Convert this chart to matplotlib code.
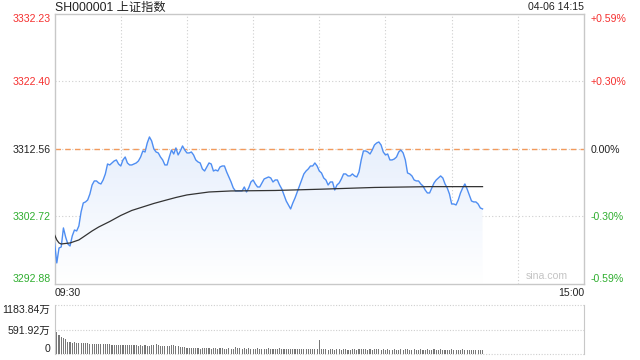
import numpy as np
import matplotlib
matplotlib.use('Agg')
import matplotlib.pyplot as plt
from matplotlib.patches import Polygon

plt.rcParams['font.family'] = ['Liberation Sans', 'Noto Sans CJK SC', 'DejaVu Sans']

title = 'SH000001 上证指数'
stamp = '04-06 14:15'
prev_close = 3312.56
price_ticks = [3292.88, 3302.72, 3312.56, 3322.40, 3332.23]
pct_labels = ['-0.59%', '-0.30%', '0.00%', '+0.30%', '+0.59%']
vol_ticks = [0, 591.92, 1183.84]
vol_labels = ['0', '591.92万', '1183.84万']
time_labels = ['09:30', '15:00']

# one value per minute from 09:30 (afternoon continues at minute 120)
price = [
    3298.82, 3295.95, 3298.13, 3298.28, 3301.05, 3299.73, 3298.71, 3298.42, 3299.88, 3300.75,
    3300.61, 3301.34, 3303.38, 3304.69, 3304.84, 3305.13, 3306.00, 3307.31, 3307.90, 3307.90,
    3307.60, 3307.46, 3308.04, 3308.92, 3310.37, 3310.23, 3310.52, 3310.81, 3310.96, 3310.37,
    3310.08, 3310.96, 3311.39, 3310.52, 3310.23, 3310.23, 3310.37, 3310.52, 3310.81, 3311.39,
    3312.27, 3312.12, 3313.43, 3314.31, 3313.73, 3312.56, 3312.12, 3311.98, 3311.39, 3310.96,
    3310.23, 3310.23, 3311.39, 3312.41, 3311.83, 3312.71, 3311.69, 3312.27, 3313.00, 3312.41,
    3311.98, 3311.98, 3312.12, 3311.69, 3310.96, 3310.67, 3310.52, 3309.65, 3309.35, 3309.94,
    3310.52, 3310.37, 3309.35, 3309.50, 3309.35, 3309.94, 3310.08, 3310.08, 3309.21, 3308.48,
    3307.75, 3306.88, 3306.44, 3306.44, 3306.44, 3306.44, 3307.02, 3306.29, 3306.88, 3307.75,
    3308.04, 3307.46, 3307.02, 3307.02, 3307.60, 3308.19, 3308.33, 3308.48, 3308.33, 3307.75,
    3308.04, 3308.04, 3307.31, 3306.73, 3305.86, 3304.98, 3304.40, 3303.82, 3304.69, 3305.42,
    3306.29, 3307.17, 3308.04, 3308.92, 3309.35, 3309.65, 3310.08, 3310.08, 3310.52, 3310.08,
    3309.35, 3309.06, 3308.33, 3308.04, 3307.31, 3307.75, 3307.75, 3306.58, 3307.31, 3307.60,
    3308.19, 3308.92, 3308.92, 3308.63, 3308.63, 3308.92, 3308.63, 3308.48, 3309.21, 3310.96,
    3312.27, 3312.27, 3312.12, 3311.83, 3312.41, 3313.14, 3313.43, 3313.58, 3313.14, 3312.12,
    3311.69, 3311.83, 3310.96, 3310.96, 3311.10, 3311.39, 3312.12, 3312.41, 3311.98, 3310.96,
    3309.06, 3308.92, 3308.63, 3308.04, 3307.90, 3307.90, 3307.46, 3307.17, 3306.58, 3306.15,
    3306.15, 3306.88, 3307.60, 3308.04, 3308.33, 3308.63, 3308.33, 3307.46, 3306.88, 3306.00,
    3304.54, 3304.54, 3304.40, 3305.13, 3306.15, 3306.88, 3307.46, 3306.73, 3305.86, 3304.98,
    3304.84, 3304.84, 3304.54, 3303.96, 3303.82,
]

avg_minutes = [0, 1, 2, 3, 5, 7, 9, 11, 13, 15, 17, 20, 25, 30, 35, 40, 45, 50, 55, 60,
               70, 80, 100, 120, 145, 170, 194]
avg_price = [3300.03, 3299.30, 3298.86, 3298.71, 3298.79, 3298.86, 3299.08, 3299.30, 3299.73,
             3300.17, 3300.61, 3301.19, 3301.99, 3302.87, 3303.60, 3304.11, 3304.62, 3305.06,
             3305.49, 3305.86, 3306.29, 3306.44, 3306.51, 3306.69, 3306.95, 3307.07, 3307.07]

# volume per minute, in 万
volume = [
    1183.84,
    540, 460, 405, 380, 352, 300, 296, 276, 278, 270,
    272, 266, 262, 258, 256, 250, 252, 246, 244, 240,
    244, 236, 232, 238, 230, 226, 228, 222, 218, 222,
    215, 218, 212, 226, 214, 208, 212, 205, 210, 200,
    206, 198, 203, 212, 224, 230, 218, 205, 200, 196,
    204, 198, 206, 215, 200, 182, 176, 168, 172, 150,
    152, 145, 140, 150, 138, 132, 142, 135, 148, 140,
    130, 138, 142, 128, 135, 140, 126, 132, 138, 130,
    128, 170, 150, 136, 128, 134, 130, 138, 126, 132,
    128, 136, 130, 124, 132, 128, 138, 126, 130, 122,
    128, 134, 120, 126, 132, 118, 124, 130, 126, 120,
    132, 124, 118, 128, 122, 126, 130, 116, 120, 340,
    120, 112, 118, 108, 114, 120, 104, 110, 116, 106,
    112, 118, 102, 108, 114, 110, 104, 116, 128, 122,
    114, 108, 118, 104, 112, 126, 110, 104, 116, 108,
    112, 100, 106, 114, 102, 108, 118, 104, 110, 120,
    108, 102, 112, 106, 98, 110, 104, 108, 114, 100,
    106, 112, 98, 104, 110, 102, 108, 96, 104, 112,
    100, 106, 96, 102, 110, 98, 94, 104, 100, 92,
    98, 104, 94, 100,
]

W, H = 640, 360
RED, GREEN, DARK = '#f5302f', '#2fae2f', '#222222'
GRID = '#cfcfcf'
label_colors = [GREEN, GREEN, DARK, RED, RED]


def fx(px):
    return px / W


def fy(py):
    return 1 - py / H


fig = plt.figure(figsize=(6.4, 3.6), dpi=100)
ax = fig.add_axes([fx(54.6), fy(284), fx(584 - 54.6), (284 - 14) / H])
axv = fig.add_axes([fx(54.6), fy(354), fx(584 - 54.6), (354 - 305) / H])

minutes = np.arange(len(price))
ymin, ymax = price_ticks[0], price_ticks[-1]

# gradient fill under the price line
poly = Polygon(np.column_stack([np.r_[0, minutes, minutes[-1]],
                                np.r_[ymin, price, ymin]]),
               closed=True, facecolor='none', edgecolor='none')
ax.add_patch(poly)
g = np.linspace(1, 0, 256)[:, None, None]
top_c = np.array([0.82, 0.88, 0.98])
img = top_c * g + np.ones(3) * (1 - g)
im = ax.imshow(img, extent=[0, 240, ymin, ymax], origin='upper', aspect='auto', zorder=1)
im.set_clip_path(poly)

for m in range(30, 240, 30):
    ax.axvline(m, color=GRID, lw=0.8, ls=(0, (1, 2)), zorder=0.5)
for v in price_ticks[1:-1]:
    ax.axhline(v, color=GRID, lw=0.8, ls=(0, (1, 2)), zorder=0.5)
ax.axhline(prev_close, color='#f29a5c', lw=1.0, ls=(0, (4, 3)), zorder=0.6)

ax.plot(minutes, price, color='#4f8ef2', lw=1.0, zorder=3)
ax.plot(avg_minutes, avg_price, color='#333333', lw=0.9, zorder=4)

ax.set_xlim(0, 240)
ax.set_ylim(ymin, ymax)
ax.set_xticks([])
ax.set_yticks(price_ticks)
ax.set_yticklabels(['%.2f' % v for v in price_ticks])
ax.tick_params(axis='y', length=0, pad=3, labelsize=7.6)
for lbl, c in zip(ax.get_yticklabels(), label_colors):
    lbl.set_color(c)
ax.get_yticklabels()[0].set_va('bottom')
ax.get_yticklabels()[-1].set_va('top')
for s in ax.spines.values():
    s.set_color('#c8c8c8')
    s.set_linewidth(1)

ax2 = ax.twinx()
ax2.set_ylim(ymin, ymax)
ax2.set_yticks(price_ticks)
ax2.set_yticklabels(pct_labels)
ax2.tick_params(axis='y', length=0, pad=5, labelsize=7.6)
for lbl, c in zip(ax2.get_yticklabels(), label_colors):
    lbl.set_color(c)
ax2.get_yticklabels()[0].set_va('bottom')
ax2.get_yticklabels()[-1].set_va('top')
for s in ax2.spines.values():
    s.set_visible(False)

ax.text(0.97, 0.01, 'sina.com', transform=ax.transAxes, ha='right', va='bottom',
        color='#c4c4c4', fontsize=7.6, zorder=5)

# volume panel
axv.bar(np.arange(len(volume)), volume, width=0.5, color='#777777', linewidth=0)
axv.set_xlim(0, 240)
axv.set_ylim(0, vol_ticks[-1])
for v in vol_ticks:
    axv.axhline(v, color=GRID, lw=0.8, ls=(0, (1, 1.5)), clip_on=False, zorder=0)
axv.set_xticks([])
axv.set_yticks(vol_ticks)
axv.set_yticklabels(vol_labels)
axv.tick_params(axis='y', length=0, pad=3, labelsize=7.6, labelcolor=DARK)
axv.get_yticklabels()[0].set_va('bottom')
axv.get_yticklabels()[-1].set_va('top')
for k in ('top', 'bottom'):
    axv.spines[k].set_visible(False)
for k in ('left', 'right'):
    axv.spines[k].set_color('#c8c8c8')

fig.text(fx(55), fy(7.5), title, ha='left', va='center', fontsize=8.8, color=DARK)
fig.text(fx(584), fy(7.5), stamp, ha='right', va='center', fontsize=7.6, color=DARK)
fig.text(fx(55), fy(293), time_labels[0], ha='left', va='center', fontsize=7.6, color=DARK)
fig.text(fx(584), fy(293), time_labels[1], ha='right', va='center', fontsize=7.6, color=DARK)

fig.savefig('out.png', dpi=100)
